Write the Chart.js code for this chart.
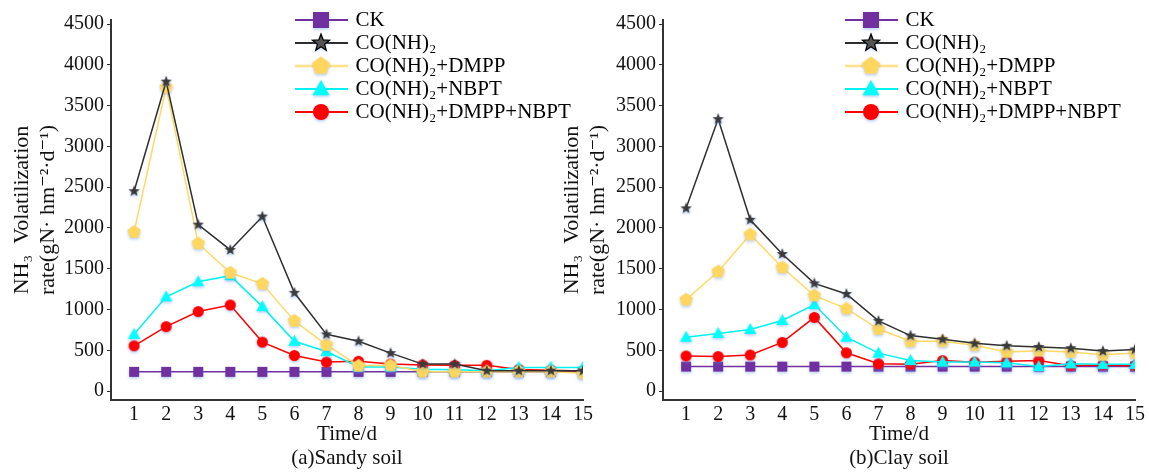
<!DOCTYPE html>
<html>
<head>
<meta charset="utf-8">
<script src="https://cdn.jsdelivr.net/npm/chart.js@4.4.1/dist/chart.umd.min.js"></script>
<style>
  html, body { margin: 0; padding: 0; background: #fff; }
  body { width: 1149px; height: 473px; position: relative; overflow: hidden; }
  canvas { position: absolute; top: 0; }
  #sandy { left: 0; }
  #clay { left: 550px; }
</style>
</head>
<body>
<canvas id="sandy" width="600" height="473"></canvas>
<canvas id="clay" width="599" height="473"></canvas>
<script>
/* ═══ NH3 volatilization, sandy vs clay soil ═══ */
var days   = [1, 2, 3, 4, 5, 6, 7, 8, 9, 10, 11, 12, 13, 14, 15];
var yTicks = [0, 500, 1000, 1500, 2000, 2500, 3000, 3500, 4000, 4500];
var seriesNames = ['CK', 'CO(NH)\u2082', 'CO(NH)\u2082+DMPP', 'CO(NH)\u2082+NBPT', 'CO(NH)\u2082+DMPP+NBPT'];

// (a) sandy soil
var sandyCK    = [235, 235, 235, 235, 235, 235, 235, 235, 235, 235, 235, 235, 235, 235, 235];
var sandyUrea  = [2450, 3795, 2040, 1730, 2140, 1205, 695, 610, 465, 330, 330, 250, 250, 250, 250];
var sandyDMPP  = [1950, 3725, 1810, 1450, 1315, 860, 565, 310, 315, 237, 237, 237, 237, 237, 217];
var sandyNBPT  = [695, 1155, 1340, 1415, 1035, 610, 485, 295, 295, 268, 260, 250, 290, 290, 290];
var sandyBoth  = [555, 790, 975, 1055, 600, 435, 355, 365, 330, 320, 315, 315, 265, 255, 245];

// (b) clay soil
var clayCK     = [300, 300, 300, 300, 300, 300, 300, 300, 300, 300, 300, 300, 300, 300, 300];
var clayUrea   = [2240, 3335, 2100, 1680, 1320, 1190, 860, 680, 635, 585, 555, 540, 525, 490, 510];
var clayDMPP   = [1120, 1465, 1920, 1515, 1170, 1010, 760, 610, 610, 560, 480, 495, 480, 445, 465];
var clayNBPT   = [660, 705, 755, 865, 1060, 660, 465, 375, 355, 355, 346, 300, 334, 327, 327];
var clayBoth   = [430, 423, 442, 596, 903, 469, 334, 327, 373, 354, 365, 373, 311, 318, 311];

var FONT = "'Liberation Serif', 'DejaVu Serif', serif";
var lineColors = ['#7030A0', '#2e2e2e', '#FFD966', '#00F2F2', '#FF0000'];
var markFill   = ['#7030A0', '#3a3a3a', '#FFD75E', '#00FFFF', '#FF0000'];
var shapes     = ['square', 'star', 'pentagon', 'triangle', 'circle'];
var markSize   = [5, 6, 7, 6.5, 5.5];
var legendSize = [8, 9, 9.5, 9, 8];
var drawOrder  = [5, 1, 2, 3, 4];   // higher = drawn earlier

function tracePath(ctx, shape, cx, cy, r) {
  ctx.beginPath();
  if (shape === 'square') {
    ctx.rect(cx - r, cy - r, 2 * r, 2 * r);
  } else if (shape === 'circle') {
    ctx.arc(cx, cy, r, 0, Math.PI * 2);
  } else if (shape === 'triangle') {
    ctx.moveTo(cx, cy - r);
    ctx.lineTo(cx + r * 0.95, cy + r * 0.7);
    ctx.lineTo(cx - r * 0.95, cy + r * 0.7);
  } else if (shape === 'pentagon') {
    for (var k = 0; k < 5; k++) {
      var a = -Math.PI / 2 + k * 2 * Math.PI / 5;
      ctx.lineTo(cx + r * Math.cos(a), cy + r * Math.sin(a));
    }
  } else if (shape === 'star') {
    for (var j = 0; j < 10; j++) {
      var b = -Math.PI / 2 + j * Math.PI / 5;
      var rr = j % 2 ? r * 0.42 : r;
      ctx.lineTo(cx + rr * Math.cos(b), cy + rr * Math.sin(b));
    }
  }
  ctx.closePath();
}

function makeIcon(i, r, lineLen) {
  var pad = 4;
  var c = document.createElement('canvas');
  c.width = Math.ceil(Math.max(lineLen || 0, 2 * r + 2 * pad));
  c.height = Math.ceil(2 * r + 2 * pad);
  var ctx = c.getContext('2d');
  var cx = c.width / 2, cy = c.height / 2;
  if (lineLen) {
    ctx.strokeStyle = lineColors[i];
    ctx.lineWidth = 2;
    ctx.beginPath(); ctx.moveTo(0, cy); ctx.lineTo(c.width, cy); ctx.stroke();
  }
  ctx.save();
  ctx.shadowColor = 'rgba(90,140,230,0.45)';
  ctx.shadowBlur = 3;
  ctx.shadowOffsetY = 1.5;
  tracePath(ctx, shapes[i], cx, cy, r);
  ctx.fillStyle = (lineLen && shapes[i] === 'star') ? '#555' : markFill[i];
  ctx.fill();
  ctx.restore();
  if (shapes[i] === 'star' && lineLen) {
    tracePath(ctx, 'star', cx, cy, r);
    ctx.strokeStyle = '#000'; ctx.lineWidth = 1.2; ctx.stroke();
  }
  return c;
}

var pointIcons  = shapes.map(function (s, i) { return makeIcon(i, markSize[i]); });
var legendIcons = shapes.map(function (s, i) { return makeIcon(i, legendSize[i], 54); });

// park the legend in the upper right of the plot, like the figure
var legendShift = {
  id: 'legendShift',
  afterLayout: function (chart) {
    var lg = chart.legend, w = lg.width, h = lg.height;
    lg.left = 295; lg.top = 7.5;
    lg.right = lg.left + w; lg.bottom = lg.top + h;
  }
};

function buildChart(id, series, caption, yWidth, padRight) {
  new Chart(document.getElementById(id), {
    type: 'line',
    data: {
      datasets: series.map(function (vals, i) {
        return {
          label: seriesNames[i],
          data: days.map(function (d, k) { return { x: d, y: vals[k] }; }),
          borderColor: lineColors[i],
          backgroundColor: markFill[i],
          borderWidth: 1.5,
          pointStyle: pointIcons[i],
          pointRadius: 6,
          pointHoverRadius: 6,
          tension: 0,
          fill: false,
          order: drawOrder[i]
        };
      })
    },
    options: {
      responsive: false,
      animation: false,
      events: [],
      layout: { padding: { top: 20, right: padRight, bottom: 0, left: 0 } },
      plugins: {
        tooltip: { enabled: false },
        legend: {
          position: 'chartArea',
          align: 'start',
          labels: {
            usePointStyle: true,
            pointStyleWidth: 48,
            padding: 2,
            color: '#111',
            font: { family: FONT, size: 21 },
            generateLabels: function (chart) {
              return chart.data.datasets.map(function (ds, i) {
                return { text: ds.label, pointStyle: legendIcons[i], fillStyle: markFill[i],
                         strokeStyle: lineColors[i], lineWidth: 0, hidden: false, datasetIndex: i };
              });
            }
          }
        }
      },
      scales: {
        x: {
          type: 'linear',
          min: 0.28,
          max: 15,
          afterBuildTicks: function (s) { s.ticks = days.map(function (v) { return { value: v }; }); },
          afterFit: function (s) { s.height = 73; },
          grid: { display: false, drawTicks: false },
          border: { display: true, color: '#333', width: 2 },
          ticks: { color: '#111', font: { family: FONT, size: 20 }, padding: 3, autoSkip: false, maxRotation: 0,
                   callback: function (v) { return String(v); } },
          title: { display: true, text: ['Time/d', caption], color: '#111',
                   font: { family: FONT, size: 21, lineHeight: 1.15 }, padding: { top: 0, bottom: 2 } }
        },
        y: {
          min: -110,
          max: 4550,
          afterBuildTicks: function (s) { s.ticks = yTicks.map(function (v) { return { value: v }; }); },
          afterFit: function (s) { s.width = yWidth; },
          grid: { display: true, drawOnChartArea: false, drawTicks: true, tickLength: 4, color: '#333' },
          border: { display: true, color: '#333', width: 2 },
          ticks: { color: '#111', font: { family: FONT, size: 20 }, padding: 3,
                   callback: function (v) { return String(v); } },
          title: { display: true, text: ['NH\u2083  Volatilization', 'rate(gN\u00b7 hm\u207b\u00b2\u00b7d\u207b\u00b9)'],
                   color: '#111', font: { family: FONT, size: 22, lineHeight: 1.2 }, padding: { top: 9, bottom: 0 } }
        }
      }
    },
    plugins: [legendShift]
  });
}

buildChart('sandy', [sandyCK, sandyUrea, sandyDMPP, sandyNBPT, sandyBoth], '(a)Sandy soil', 111, 17);
buildChart('clay',  [clayCK, clayUrea, clayDMPP, clayNBPT, clayBoth], '(b)Clay soil', 113, 14);
</script>
</body>
</html>
